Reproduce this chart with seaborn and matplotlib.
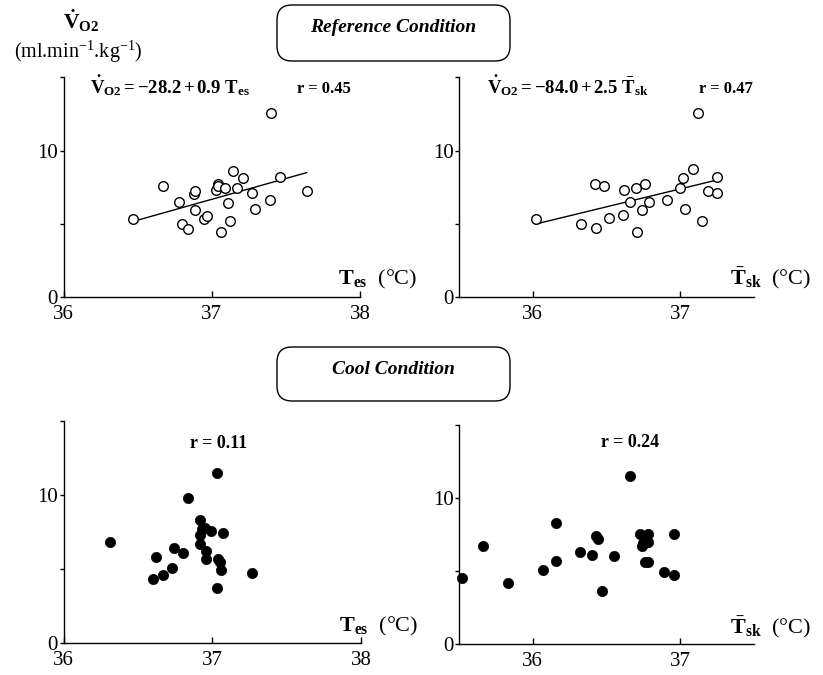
import matplotlib
matplotlib.use("Agg")
import matplotlib.pyplot as plt
from matplotlib.patches import FancyBboxPatch
from matplotlib.ticker import MultipleLocator
import numpy as np
import pandas as pd
import seaborn as sns

# Reference condition: oesophageal temperature vs VO2
ref_tes = [36.47, 36.67, 36.78, 36.80, 36.84, 36.88, 36.89, 36.89, 36.95, 36.97,
           37.03, 37.04, 37.04, 37.09, 37.11, 37.12, 37.06, 37.14, 37.17, 37.21,
           37.27, 37.29, 37.39, 37.40, 37.46, 37.64]
ref_tes_vo2 = [5.3, 7.6, 6.5, 5.0, 4.6, 7.0, 7.2, 5.9, 5.3, 5.5,
               7.3, 7.7, 7.6, 7.4, 6.4, 5.2, 4.4, 8.6, 7.4, 8.1,
               7.1, 6.0, 6.6, 12.6, 8.2, 7.2]

# Reference condition: mean skin temperature vs VO2
ref_tsk = [36.02, 36.33, 36.42, 36.43, 36.48, 36.52, 36.61, 36.62, 36.66, 36.70,
           36.71, 36.74, 36.76, 36.79, 36.91, 37.00, 37.02, 37.03, 37.09, 37.12,
           37.15, 37.19, 37.25, 37.25]
ref_tsk_vo2 = [5.3, 5.0, 7.7, 4.7, 7.6, 5.4, 5.6, 7.3, 6.5, 7.4,
               4.4, 5.9, 7.7, 6.5, 6.6, 7.4, 8.1, 6.0, 8.7, 12.6,
               5.2, 7.2, 7.1, 8.2]

# Cool condition: oesophageal temperature vs VO2
cool_tes = [36.31, 36.60, 36.62, 36.67, 36.73, 36.74, 36.80, 36.84, 36.92, 36.92,
            36.92, 36.93, 36.95, 36.96, 36.96, 36.99, 37.03, 37.03, 37.04, 37.05,
            37.06, 37.07, 37.27]
cool_tes_vo2 = [6.8, 4.3, 5.8, 4.6, 5.1, 6.4, 6.1, 9.8, 8.3, 7.3,
                6.7, 7.7, 7.8, 6.2, 5.7, 7.6, 11.5, 3.7, 5.7, 5.5,
                4.9, 7.4, 4.7]

# Cool condition: mean skin temperature vs VO2
cool_tsk = [35.52, 35.66, 35.83, 36.07, 36.16, 36.16, 36.32, 36.40, 36.43, 36.44,
            36.47, 36.55, 36.66, 36.73, 36.74, 36.75, 36.78, 36.78, 36.76, 36.78,
            36.89, 36.96, 36.96]
cool_tsk_vo2 = [4.5, 6.7, 4.2, 5.1, 5.7, 8.3, 6.3, 6.1, 7.4, 7.2,
                3.6, 6.0, 11.5, 7.5, 6.7, 6.9, 7.0, 7.5, 5.6, 5.6,
                4.9, 7.5, 4.7]

sns.set_style("ticks")
plt.rcParams["font.family"] = ["Liberation Serif", "DejaVu Serif"]
plt.rcParams["mathtext.fontset"] = "custom"
plt.rcParams["mathtext.rm"] = "Liberation Serif"
plt.rcParams["mathtext.bf"] = "Liberation Serif:bold"
plt.rcParams["mathtext.it"] = "Liberation Serif:italic"
plt.rcParams["text.color"] = "black"

fig = plt.figure(figsize=(8.23, 6.75), dpi=100)

# overlay in pixel units for the header boxes
over = fig.add_axes([0, 0, 1, 1])
over.set_xlim(0, 823)
over.set_ylim(675, 0)
over.axis("off")

ax1 = fig.add_axes([0.0772, 0.5607, 0.3603, 0.3245])
ax2 = fig.add_axes([0.5577, 0.5607, 0.3584, 0.3245])
ax3 = fig.add_axes([0.0772, 0.0474, 0.3615, 0.3289])
ax4 = fig.add_axes([0.5577, 0.0459, 0.3584, 0.3245])

panels = [
    (ax1, ref_tes, ref_tes_vo2, False, (36, 38), [36, 37, 38]),
    (ax2, ref_tsk, ref_tsk_vo2, False, (35.5, 37.5), [36, 37]),
    (ax3, cool_tes, cool_tes_vo2, True, (36, 38), [36, 37, 38]),
    (ax4, cool_tsk, cool_tsk_vo2, True, (35.5, 37.5), [36, 37]),
]

for ax, xs, ys, filled, xlim, xticks in panels:
    df = pd.DataFrame({"t": xs, "vo2": ys})
    if filled:
        sns.scatterplot(data=df, x="t", y="vo2", ax=ax, color="black",
                        edgecolor="black", s=55, linewidth=0.5, zorder=3,
                        clip_on=False)
    else:
        sns.regplot(data=df, x="t", y="vo2", ax=ax, scatter=False, ci=None,
                    truncate=True, line_kws={"color": "black", "lw": 1.0})
        sns.scatterplot(data=df, x="t", y="vo2", ax=ax, facecolor="white",
                        edgecolor="black", s=48, linewidth=1.0, zorder=3)
    ax.set_xlim(*xlim)
    ax.set_ylim(0, 15)
    ax.set_xticks(xticks)
    ax.set_yticks([0, 10])
    ax.yaxis.set_minor_locator(MultipleLocator(5))
    ax.set_xlabel("")
    ax.set_ylabel("")
    sns.despine(ax=ax)
    for s in ["left", "bottom"]:
        ax.spines[s].set_linewidth(1.0)
        ax.spines[s].set_color("black")
    ax.tick_params(axis="x", direction="in", length=4, width=1, pad=6,
                   labelsize=15, colors="black")
    ax.tick_params(axis="y", which="both", direction="out", length=3, width=1,
                   pad=1, labelsize=15, colors="black")

# axis names
for ax, lab, y in [(ax1, r"$\mathbf{T_{es}}$  (°C)", 0.055),
                   (ax3, r"$\mathbf{T_{es}}$  (°C)", 0.05),
                   (ax2, r"$\mathbf{\bar{T}_{sk}}$  (°C)", 0.055),
                   (ax4, r"$\mathbf{\bar{T}_{sk}}$  (°C)", 0.05)]:
    x0 = 0.926 if ax in (ax1, ax3) else 0.919
    ax.text(x0, y, lab, transform=ax.transAxes, fontsize=16,
            ha="left", va="baseline")

# equations and r values
ax1.text(0.089, 0.93, r"$\mathbf{\dot{V}_{O2} = -28.2 + 0.9\ T_{es}}$",
         transform=ax1.transAxes, fontsize=13.5, ha="left", va="baseline")
ax1.text(0.788, 0.93, "r = 0.45", transform=ax1.transAxes, fontsize=12,
         fontweight="bold", ha="left", va="baseline")
ax2.text(0.095, 0.93, r"$\mathbf{\dot{V}_{O2} = -84.0 + 2.5\ \bar{T}_{sk}}$",
         transform=ax2.transAxes, fontsize=13.5, ha="left", va="baseline")
ax2.text(0.814, 0.93, "r = 0.47", transform=ax2.transAxes, fontsize=12,
         fontweight="bold", ha="left", va="baseline")
ax3.text(0.52, 0.899, "r = 0.11", transform=ax3.transAxes, fontsize=13,
         fontweight="bold", ha="center", va="center")
ax4.text(0.58, 0.922, "r = 0.24", transform=ax4.transAxes, fontsize=13,
         fontweight="bold", ha="center", va="center")

# y-axis header
fig.text(0.098, 0.970, r"$\mathbf{\dot{V}_{O2}}$", fontsize=15.5,
         ha="center", va="center")
fig.text(0.095, 0.923, r"(ml.min$^{\mathrm{-1}}$.kg$^{\mathrm{-1}}$)",
         fontsize=14.5, ha="center", va="center")

# condition boxes
r = 15
for (x0, y0, x1, y1), label, ty in [((277, 5, 510, 61), "Reference Condition", 28),
                                    ((277, 347, 510, 401), "Cool Condition", 370)]:
    box = FancyBboxPatch((x0 + r, y0 + r), x1 - x0 - 2 * r, y1 - y0 - 2 * r,
                         boxstyle=f"round,pad={r}", facecolor="white",
                         edgecolor="black", linewidth=1.0)
    over.add_patch(box)
    over.text((x0 + x1) / 2, ty, label, fontsize=14, fontweight="bold",
              fontstyle="italic", ha="center", va="center")

fig.savefig("out.png", dpi=100)
